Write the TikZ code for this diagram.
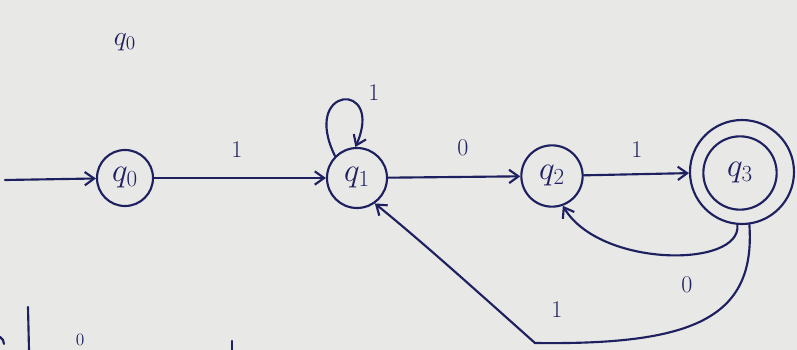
\documentclass[tikz,border=0pt]{standalone}
\usetikzlibrary{arrows.meta}
\definecolor{ink}{HTML}{1E2060}
\definecolor{paper}{HTML}{E8E8E6}
\begin{document}
\begin{tikzpicture}[x=0.75pt,y=-0.75pt,
  stroke/.style={draw=ink, line width=1.6pt, line cap=round},
  arr/.style={stroke, -{Straight Barb[length=7pt,width=10pt]}},
  state/.style={circle, stroke, inner sep=0pt, text=ink, font=\fontsize{26}{28}\selectfont},
  sym/.style={text=ink, font=\fontsize{18}{20}\selectfont, inner sep=1pt}]
\fill[paper] (0,0) rectangle (797,350);
\useasboundingbox (0,0) rectangle (797,350);
% heading
\node[sym, font=\fontsize{20}{22}\selectfont] (head) at (125,42) {$q_0$};
% states
\node[state, minimum size=42pt] (q0) at (125,178) {$q_0$};
\node[state, minimum size=45pt] (q1) at (357,178) {$q_1$};
\node[state, minimum size=46pt] (q2) at (552,176) {$q_2$};
\node[state, minimum size=78pt] (q3o) at (742,172) {};
\node[state, minimum size=55pt] (q3) at (740,173) {$q_3$};
% start
\coordinate (start) at (5,180);
\draw[arr] (start) -- (q0);
% edges
\draw[arr] (q0) -- (q1);
\node[sym] (l01) at (237,150) {1};
\draw[arr] (q1.135) .. controls (300,85) and (385,80) .. (q1.93);
\node[sym] (l11) at (374,93) {1};
\draw[arr] (q1) -- (q2);
\node[sym] (l12) at (463,148) {0};
\draw[arr] (q2) -- (q3o);
\node[sym] (l23) at (637,150) {1};
\draw[arr] (q3o.265) .. controls (742,268) and (600,268) .. (q2.290);
\node[sym] (l32) at (687,285) {0};
\coordinate (bend) at (535,343);
\draw[arr] (q3o.278) .. controls (756,320) and (690,345) .. (bend)
  .. controls (470,285) and (420,240) .. (q1.305);
\node[sym] (l31) at (557,310) {1};
% fragments of the next line
\draw[stroke] (0,337) arc (-60:0:8);
\coordinate (f1a) at (28,307); \coordinate (f1b) at (29,350);
\draw[stroke] (f1a) -- (f1b);
\node[sym, font=\fontsize{13}{14}\selectfont] (f0) at (80,340) {0};
\coordinate (f2a) at (232,341); \coordinate (f2b) at (232,350);
\draw[stroke] (f2a) -- (f2b);
\end{tikzpicture}
\end{document}
